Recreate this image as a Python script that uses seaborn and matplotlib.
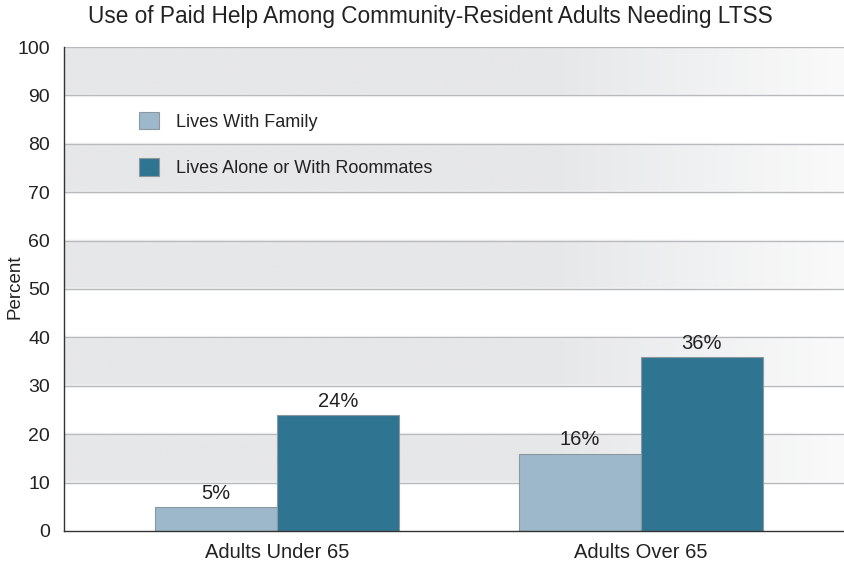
import numpy as np
import pandas as pd
import matplotlib
matplotlib.use("Agg")
import matplotlib.pyplot as plt
from matplotlib.patches import Patch
import seaborn as sns

# Data
groups = ["Adults Under 65", "Adults Over 65"]
living = ["Lives With Family", "Lives Alone or With Roommates"]
with_family = [5, 16]
alone = [24, 36]
y_ticks = [0, 10, 20, 30, 40, 50, 60, 70, 80, 90, 100]

df = pd.DataFrame({
    "group": groups * 2,
    "living": [living[0]] * 2 + [living[1]] * 2,
    "pct": with_family + alone,
})

sns.set_theme(style="white")
plt.rcParams["font.family"] = ["Liberation Sans", "DejaVu Sans"]

light = "#9db8ca"
dark = "#2f7491"
text_c = "#222222"

W, H = 844, 565
fig = plt.figure(figsize=(W / 100, H / 100), dpi=100)
ax = fig.add_axes([0.0758, 0.0602, 0.9242, 0.8566])

# Alternating horizontal bands that fade to white at the right edge
ncols = 400
xfrac = np.linspace(0, 1, ncols)
fade = np.clip((xfrac - 0.62) / 0.38, 0, 1)
gray = np.array([230, 231, 233]) / 255
white_end = np.array([250, 250, 250]) / 255
band_row = gray[None, :] * (1 - fade[:, None]) + white_end[None, :] * fade[:, None]
img = np.ones((100, ncols, 3))
for lo in range(0, 100, 10):
    if (lo // 10) % 2 == 1:
        img[lo:lo + 10, :, :] = band_row[None, :, :]
xlim = (-0.585, 1.558)
ax.imshow(img, extent=(xlim[0], xlim[1], 0, 100), origin="lower",
          aspect="auto", zorder=0, interpolation="bilinear")

# Grid lines
for yv in y_ticks[1:]:
    ax.axhline(yv, color="#b8babd", lw=1.0, zorder=1)

sns.barplot(data=df, x="group", y="pct", hue="living", hue_order=living,
            palette=[light, dark], width=0.67, edgecolor="#8c989f",
            linewidth=0.8, saturation=1, ax=ax, zorder=3, legend=False)

for cont in ax.containers:
    ax.bar_label(cont, labels=[f"{v:g}%" for v in cont.datavalues],
                 padding=3, fontsize=14.5, color=text_c)

ax.set_xlim(*xlim)
ax.set_ylim(0, 100)
ax.set_yticks(y_ticks)
ax.set_yticklabels([str(t) for t in y_ticks])
ax.set_xlabel("")
ax.set_ylabel("")
ax.tick_params(axis="y", length=0, labelsize=14, colors=text_c, pad=10)
ax.tick_params(axis="x", length=0, labelsize=14.5, colors=text_c, pad=9)

fig.text(15 / W, 1 - 287 / H, "Percent", rotation=90, ha="center", va="center",
         fontsize=13.5, color=text_c)

for side in ["top", "right"]:
    ax.spines[side].set_visible(False)
for side in ["left", "bottom"]:
    ax.spines[side].set_color("#333333")
    ax.spines[side].set_linewidth(1.0)
    ax.spines[side].set_zorder(5)

handles = [Patch(facecolor=light, edgecolor="#8c989f", lw=0.8),
           Patch(facecolor=dark, edgecolor="#8c989f", lw=0.8)]
ax.legend(handles, living, loc="upper left",
          bbox_to_anchor=(139 / W, 1 - 112 / H), bbox_transform=fig.transFigure,
          frameon=False, fontsize=13, handlelength=1.1, handleheight=1.1,
          labelspacing=1.52, handletextpad=0.95, borderpad=0, borderaxespad=0,
          labelcolor=text_c)

fig.text(430 / W, 1 - 16 / H, "Use of Paid Help Among Community-Resident Adults Needing LTSS",
         ha="center", va="center", fontsize=16.3, color=text_c)

fig.savefig("out.png", dpi=100)
